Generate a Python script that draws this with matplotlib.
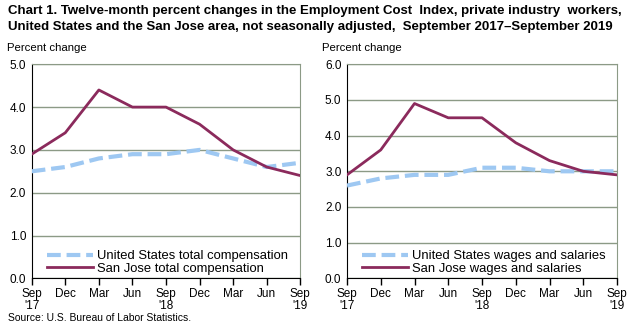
import matplotlib
matplotlib.use("Agg")
import matplotlib.pyplot as plt

quarters = ["Sep\n'17", "Dec", "Mar", "Jun", "Sep\n'18", "Dec", "Mar", "Jun", "Sep\n'19"]
us_total = [2.5, 2.6, 2.8, 2.9, 2.9, 3.0, 2.8, 2.6, 2.7]
sj_total = [2.9, 3.4, 4.4, 4.0, 4.0, 3.6, 3.0, 2.6, 2.4]
us_wages = [2.6, 2.8, 2.9, 2.9, 3.1, 3.1, 3.0, 3.0, 3.0]
sj_wages = [2.9, 3.6, 4.9, 4.5, 4.5, 3.8, 3.3, 3.0, 2.9]

plt.rcParams['font.family'] = ['Liberation Sans', 'DejaVu Sans']

US_COLOR = "#9ec8f2"
SJ_COLOR = "#8b2a5c"
GRID = "#8c9a86"

fig = plt.figure(figsize=(6.38, 3.28), dpi=100)

fig.text(8/638, 1-11/328, "Chart 1. Twelve-month percent changes in the Employment Cost  Index, private industry  workers,",
         fontsize=9.5, fontweight='bold', va='center', ha='left')
fig.text(8/638, 1-27/328, "United States and the San Jose area, not seasonally adjusted,  September 2017\u2013September 2019",
         fontsize=9.5, fontweight='bold', va='center', ha='left')
fig.text(8/638, 1-318/328, "Source: U.S. Bureau of Labor Statistics.", fontsize=7.5, va='center', ha='left')

x = list(range(len(quarters)))

def panel(rect, us, sj, ymax, us_label, sj_label, ylab_x):
    ax = fig.add_axes(rect)
    ax.plot(x, us, color=US_COLOR, lw=3, ls=(0, (3.3, 1.4)), label=us_label, zorder=3)
    ax.plot(x, sj, color=SJ_COLOR, lw=2, label=sj_label, zorder=4)
    ax.set_xlim(0, len(x)-1)
    ax.set_ylim(0, ymax)
    ax.set_yticks([i for i in range(int(ymax)+1)])
    ax.set_yticklabels([f"{i:.1f}" for i in range(int(ymax)+1)], fontsize=8.5)
    ax.set_xticks(x)
    ax.set_xticklabels(quarters, fontsize=8.5, linespacing=1.05)
    ax.yaxis.grid(True, color=GRID, lw=1)
    ax.set_axisbelow(True)
    for s in ['top', 'right']:
        ax.spines[s].set_color(GRID)
    ax.spines['left'].set_color('black')
    ax.spines['bottom'].set_color('black')
    ax.tick_params(axis='y', length=0, pad=4)
    ax.tick_params(axis='x', length=5, direction='out', width=1, pad=2)
    ax.legend(loc='lower left', bbox_to_anchor=(0.045, 0.0), frameon=False, fontsize=9.4,
              handlelength=3.5, handletextpad=0.3, labelspacing=0.05, borderpad=0.15, borderaxespad=0.1)
    fig.text(ylab_x, 1-48/328, "Percent change", fontsize=8.2, va='center', ha='left')
    return ax

panel([31.7/638, 1-278.3/328, (300.3-31.7)/638, (278.3-64.3)/328], us_total, sj_total, 5.0,
      "United States total compensation", "San Jose total compensation", 7/638)
panel([347/638, 1-278.3/328, (617-347)/638, (278.3-64.3)/328], us_wages, sj_wages, 6.0,
      "United States wages and salaries", "San Jose wages and salaries", 322/638)

fig.savefig("out.png", dpi=100)
